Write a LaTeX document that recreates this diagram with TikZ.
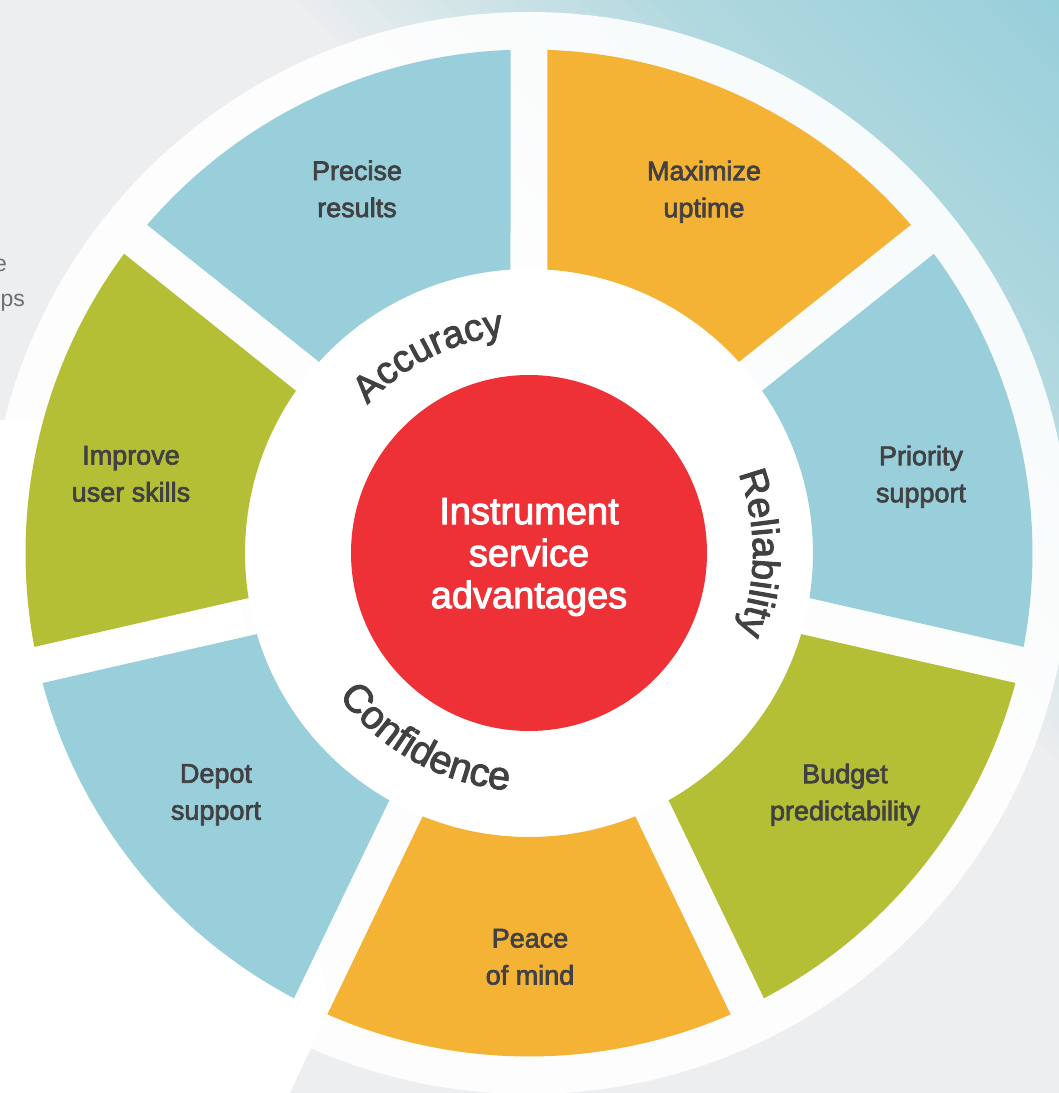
\documentclass[tikz,border=0pt]{standalone}
\usepackage{fontspec}
\setmainfont{Liberation Sans}
\newfontfamily\medfont[FakeBold=2.5]{Liberation Sans}
\usetikzlibrary{decorations.text}
\definecolor{segteal}{HTML}{98CFDA}
\definecolor{segorange}{HTML}{F5B335}
\definecolor{seggreen}{HTML}{B4BF35}
\definecolor{hubred}{HTML}{EE3137}
\definecolor{txtdark}{HTML}{414042}
\definecolor{bggray}{HTML}{EDEEEF}
\definecolor{bgmid}{HTML}{B0D8DF}
\definecolor{bgteal}{HTML}{97CFDA}
\definecolor{fragtxt}{HTML}{6D6E71}
\newcommand\curvefont{\medfont\fontsize{38}{40}\selectfont\color{txtdark}}
\newcommand\curvefontb{\medfont\fontsize{39.5}{40}\selectfont\color{txtdark}}
\tikzset{
  seglabel/.style={font=\medfont\fontsize{27}{37}\selectfont, text=txtdark, align=center, inner sep=0pt},
  hubnode/.style={circle, fill=hubred, minimum size=356pt, inner sep=0pt},
  hubtext/.style={text=white, align=center, inner sep=0pt, font=\medfont\fontsize{38}{42}\selectfont},
  fragtext/.style={font=\fontsize{23}{35}\selectfont, text=fragtxt, inner sep=0pt},
  curvetext/.style={decorate, decoration={text along path, text align=center, text={|\curvefont|#1}}},
  curvetextb/.style={decorate, decoration={text along path, text align=center, text={|\curvefontb|#1}}}
}
\begin{document}
\begin{tikzpicture}[x=1pt,y=1pt]
\useasboundingbox (-529,-540) rectangle (530,553);
\begin{scope}
  \clip (-529,-540) rectangle (530,553);
  \fill[bggray] (-529,-540) rectangle (530,553);
  % diagonal gradient towards the top right corner, drawn as thin strips
  \foreach \i in {0,...,27}{
    \pgfmathsetmacro\uu{217+10*\i}
    \pgfmathsetmacro\pp{100*(\i+0.5)/28}
    \fill[rotate=45, bgmid!\pp!bggray] (\uu,-900) rectangle (\uu+10.6,900);
  }
  \foreach \i in {0,...,27}{
    \pgfmathsetmacro\uu{497+10*\i}
    \pgfmathsetmacro\pp{100*(\i+0.5)/28}
    \fill[rotate=45, bgteal!\pp!bgmid] (\uu,-900) rectangle (\uu+10.6,900);
  }
  \fill[white] (-529,133) -- (-329,133) -- (-199,-454) -- (-239,-540) -- (-529,-540) -- cycle;
  \node[fragtext, anchor=base east] (fragA) at (-522,281.3) {e};
  \node[fragtext, anchor=base east] (fragB) at (-504,246.3) {ps};
\end{scope}
% wheel
\fill[white, opacity=0.9] (0,0) circle (541pt);
\fill[white] (0,0) circle (284pt);
\foreach \k/\c in {0/segorange,1/segteal,2/seggreen,3/segorange,4/segteal,5/seggreen,6/segteal}{
  \pgfmathsetmacro\aa{90-51.428571*\k}
  \pgfmathsetmacro\bb{\aa-51.428571}
  \fill[\c] ({\aa-2.106}:503.5pt) arc[start angle={\aa-2.106}, end angle={\bb+2.106}, radius=503.5pt]
    -- ({\bb+3.735}:284pt) arc[start angle={\bb+3.735}, end angle={\aa-3.735}, radius=284pt] -- cycle;
}
\node[hubnode] (hub) at (0,0) {};
\node[hubtext] (hubtxt) at ([yshift=-4pt]hub.center) {Instrument\\service\\advantages};
\node[seglabel] (precise) at (-172,364.1) {Precise\\results};
\node[seglabel] (maxup) at (175,361.3) {Maximize\\uptime};
\node[seglabel] (improve) at (-398,79.1) {Improve\\user skills};
\node[seglabel] (priority) at (392,76.3) {Priority\\support};
\node[seglabel] (depot) at (-313,-241.7) {Depot\\support};
\node[seglabel] (budget) at (316,-241.7) {Budget\\predictability};
\node[seglabel] (peace) at (1,-403.9) {Peace\\of mind};
% curved labels
\path[curvetext=Accuracy] (161:219pt) arc[start angle=161, end angle=73, radius=219pt];
\path[curvetext=Reliability] (45:224pt) arc[start angle=45, end angle=-45, radius=224pt];
\path[curvetextb=Confidence] (196:238pt) arc[start angle=196, end angle=286, radius=238pt];
\end{tikzpicture}
\end{document}
